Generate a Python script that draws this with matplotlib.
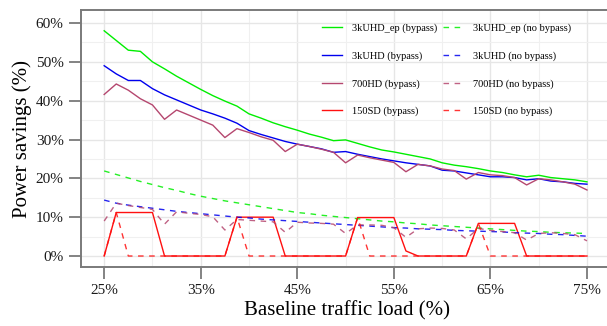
import numpy as np
import matplotlib
matplotlib.use('Agg')
import matplotlib.pyplot as plt
from matplotlib.ticker import MultipleLocator, FuncFormatter

plt.rcParams['font.family'] = ['Liberation Serif', 'DejaVu Serif']

# baseline traffic load (%), step 1.25
load = [25 + 1.25 * i for i in range(41)]

uhd_ep_bypass = [58.0, 55.5, 53.0, 52.7, 50.0, 48.2, 46.3, 44.6, 42.9, 41.3,
                 39.9, 38.6, 36.6, 35.5, 34.3, 33.3, 32.4, 31.4, 30.6, 29.7,
                 29.9, 29.0, 28.1, 27.3, 26.8, 26.2, 25.6, 25.0, 24.0, 23.4,
                 23.0, 22.5, 21.9, 21.5, 20.9, 20.4, 20.8, 20.2, 19.9, 19.6, 19.1]
uhd_bypass = [49.0, 46.9, 45.2, 45.2, 43.1, 41.5, 40.2, 38.9, 37.6, 36.6,
              35.5, 34.2, 32.3, 31.3, 30.4, 29.5, 28.8, 28.2, 27.6, 26.7,
              26.9, 26.2, 25.6, 25.0, 24.5, 24.0, 23.6, 23.2, 22.1, 21.9,
              21.4, 20.9, 20.4, 20.4, 20.2, 19.6, 19.9, 19.3, 19.1, 18.7, 18.5]
hd_bypass = [41.6, 44.3, 42.7, 40.5, 38.9, 35.2, 37.6, 36.3, 35.0, 33.7,
             30.5, 32.8, 31.8, 30.7, 29.8, 26.9, 28.8, 28.2, 27.5, 26.7,
             24.0, 26.0, 25.3, 24.7, 24.1, 21.7, 23.6, 23.2, 22.4, 22.0,
             19.8, 21.5, 20.9, 20.7, 20.2, 18.3, 19.9, 19.6, 19.1, 18.5, 17.0]
sd_bypass = [0, 11.2, 11.2, 11.2, 11.2, 0, 0, 0, 0, 0,
             0, 10.0, 10.0, 10.0, 10.0, 0, 0, 0, 0, 0,
             0, 9.9, 9.9, 9.9, 9.9, 1.3, 0, 0, 0, 0,
             0, 8.4, 8.4, 8.4, 8.4, 0, 0, 0, 0, 0, 0]

uhd_ep_nobypass = [21.9, 21.0, 20.1, 19.2, 18.4, 17.6, 16.9, 16.1, 15.4, 14.8,
                   14.2, 13.7, 13.2, 12.7, 12.2, 11.7, 11.2, 10.9, 10.5, 10.2,
                   9.9, 9.6, 9.3, 9.0, 8.8, 8.5, 8.3, 8.0, 7.8, 7.6,
                   7.4, 7.2, 7.0, 6.8, 6.6, 6.4, 6.3, 6.1, 6.0, 5.9, 5.8]
uhd_nobypass = [14.4, 13.6, 13.1, 12.7, 12.3, 11.9, 11.5, 11.2, 10.9, 10.6,
                10.3, 10.0, 9.8, 9.5, 9.3, 9.1, 8.9, 8.7, 8.5, 8.3,
                8.1, 7.9, 7.7, 7.5, 7.3, 7.2, 7.0, 6.9, 6.8, 6.6,
                6.5, 6.4, 6.3, 6.2, 6.0, 5.9, 5.8, 5.6, 5.5, 5.3, 5.1]
hd_nobypass = [9.0, 13.6, 13.0, 12.5, 12.0, 8.2, 11.4, 11.0, 10.7, 10.1,
               6.7, 9.4, 9.2, 9.0, 8.8, 6.1, 8.7, 8.5, 8.4, 8.2,
               5.8, 8.0, 8.0, 7.9, 7.3, 4.8, 7.0, 7.2, 7.1, 6.7,
               4.4, 7.1, 6.6, 6.3, 6.0, 4.1, 5.8, 6.0, 5.8, 5.5, 3.9]
sd_nobypass = [0, 11.2, 0, 0, 0, 0, 0, 0, 0, 0,
               0, 10.0, 0, 0, 0, 0, 0, 0, 0, 0,
               0, 9.9, 0, 0, 0, 0, 0, 0, 0, 0,
               0, 8.4, 0, 0, 0, 0, 0, 0, 0, 0, 0]

names = ['3kUHD_ep', '3kUHD', '700HD', '150SD']
colors = ['#00EE00', '#0000EE', '#B5476F', '#FF1010']
bypass = [uhd_ep_bypass, uhd_bypass, hd_bypass, sd_bypass]
nobypass = [uhd_ep_nobypass, uhd_nobypass, hd_nobypass, sd_nobypass]

fig = plt.figure(figsize=(6.07, 3.26), dpi=100)
ax = fig.add_axes([81 / 607, 1 - 267 / 326, 1 - 81 / 607 + 0.01, (267 - 10) / 326])

for name, c, ys in zip(names, colors, bypass):
    ax.plot(load, ys, color=c, lw=1.0, label=name + ' (bypass)', zorder=3)
for name, c, ys in zip(names, colors, nobypass):
    ax.plot(load, ys, color=c, lw=1.0, ls=(0, (4, 4)), alpha=0.85,
            label=name + ' (no bypass)', zorder=3)

ax.set_xlim(22.6, 77.7)
ax.set_ylim(-2.83, 63.35)
ax.xaxis.set_major_locator(MultipleLocator(10))
ax.xaxis.set_minor_locator(MultipleLocator(5))
ax.yaxis.set_major_locator(MultipleLocator(10))
ax.yaxis.set_minor_locator(MultipleLocator(5))
pct = FuncFormatter(lambda v, p: '%d%%' % round(v))
ax.xaxis.set_major_formatter(pct)
ax.yaxis.set_major_formatter(pct)
ax.set_xticks(np.arange(25, 76, 10))

ax.grid(which='major', color='#E6E6E6', lw=1.0, zorder=0)
ax.grid(which='minor', color='#F0F0F0', lw=0.8, zorder=0)
ax.tick_params(which='major', length=8.5, width=1.2, color='#6E6E6E',
               labelsize=11, labelcolor='#1A1A1A', pad=4)
ax.tick_params(which='minor', length=0)
for s in ['left', 'top', 'bottom']:
    ax.spines[s].set_color('#7A7A7A')
    ax.spines[s].set_linewidth(1.4)
ax.spines['right'].set_visible(False)

ax.set_xlabel('Baseline traffic load (%)', fontsize=15, labelpad=3)
ax.set_ylabel('Power savings (%)', fontsize=15, labelpad=3)

ax.legend(ncol=2, frameon=False, fontsize=7.5, loc='upper left',
          bbox_to_anchor=(0.435, 0.985), handlelength=1.9, handletextpad=1.0,
          columnspacing=0.55, labelspacing=1.75)

fig.savefig('out.png', dpi=100)
